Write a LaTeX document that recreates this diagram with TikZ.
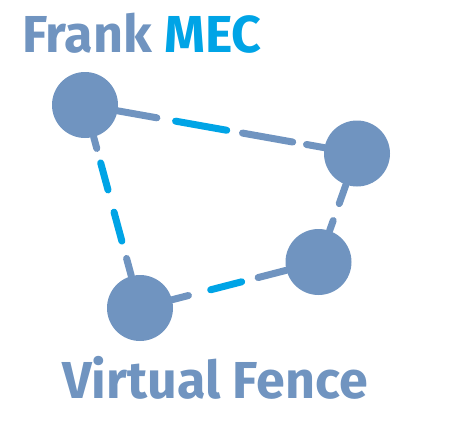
\documentclass[tikz,border=0pt]{standalone}
\usepackage{fontspec}
\setmainfont{Fira Sans}
\usetikzlibrary{calc}
\definecolor{steel}{RGB}{112,148,192}
\definecolor{sky}{RGB}{0,164,230}
\pgfdeclarelayer{bg}
\pgfsetlayers{bg,main}
\begin{document}
\begin{tikzpicture}[x=1pt,y=-1pt,
  fence/.style={line width=7pt,line cap=round,draw=steel},
  fenceblue/.style={fence,draw=sky},
  site/.style={circle,fill=steel,minimum size=66pt,inner sep=0pt},
  title/.style={font=\fontsize{52}{52}\selectfont\bfseries,inner sep=0pt,anchor=base}]
\useasboundingbox (0,0) rectangle (451,429);
\node[site] (a) at (85,105) {};
\node[site] (b) at (357,153.5) {};
\node[site] (c) at (318.5,262) {};
\node[site] (d) at (140,308) {};
\begin{pgfonlayer}{bg}
  % A -- B
  \draw[fence] (a) -- ($(a)!73pt!(b)$);
  \draw[fenceblue] ($(a)!92pt!(b)$) -- ($(a)!144pt!(b)$);
  \draw[fence] ($(a)!160pt!(b)$) -- ($(a)!211pt!(b)$);
  \draw[fence] ($(a)!225pt!(b)$) -- (b);
  % A -- D
  \draw[fence] (a) -- ($(a)!45pt!(d)$);
  \draw[fenceblue] ($(a)!60pt!(d)$) -- ($(a)!88pt!(d)$);
  \draw[fenceblue] ($(a)!111pt!(d)$) -- ($(a)!141pt!(d)$);
  \draw[fence] ($(a)!159pt!(d)$) -- (d);
  % D -- C
  \draw[fence] (d) -- ($(d)!50pt!(c)$);
  \draw[fenceblue] ($(d)!73pt!(c)$) -- ($(d)!105pt!(c)$);
  \draw[fence] ($(d)!122pt!(c)$) -- (c);
  % C -- B
  \draw[fence] (c) -- ($(c)!44pt!(b)$);
  \draw[fence] ($(c)!62pt!(b)$) -- (b);
\end{pgfonlayer}
\node[title] (top) at (142,52) {\textcolor{steel}{Frank} \textcolor{sky}{MEC}};
\node[title,text=steel] (bottom) at (215,398) {Virtual Fence};
\end{tikzpicture}
\end{document}
